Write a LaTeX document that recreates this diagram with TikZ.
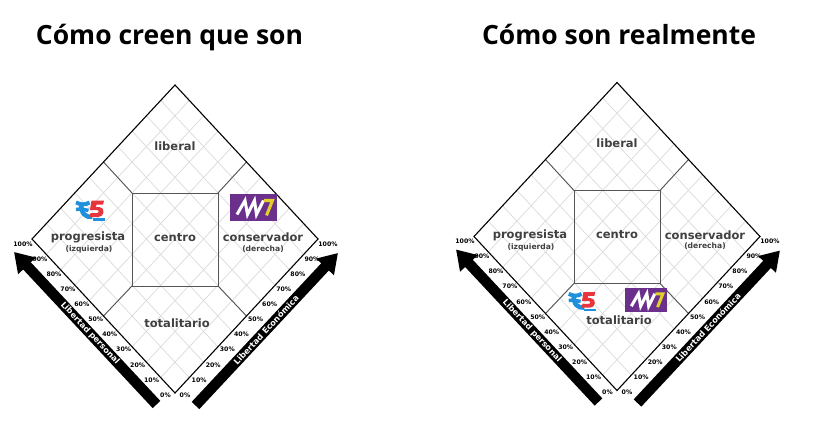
\documentclass[tikz,border=0pt]{standalone}
\usepackage{fontspec}
\setmainfont{DejaVu Sans}
\newfontfamily\titlefont{Open Sans}
\usetikzlibrary{arrows.meta, calc}
\definecolor{gridgray}{RGB}{218,218,218}
\definecolor{zonegray}{RGB}{85,85,85}
\definecolor{zonetext}{RGB}{64,64,64}
\definecolor{adnpurple}{RGB}{106,48,140}
\definecolor{adnyellow}{RGB}{226,208,40}
\definecolor{tvblue}{RGB}{30,144,220}
\definecolor{tvred}{RGB}{232,52,60}
\tikzset{
    x=1pt, y=-1pt,
    title/.style={font=\titlefont\bfseries\fontsize{26.5}{30}\selectfont, text=black, inner sep=0pt, anchor=base},
    zone/.style={font=\fontsize{11.5}{13}\selectfont\bfseries, text=zonetext, inner sep=0pt},
    subzone/.style={font=\fontsize{7.6}{9}\selectfont\bfseries, text=zonetext, inner sep=0pt},
    percent/.style={font=\fontsize{6.2}{8}\selectfont\bfseries, text=black, inner sep=0pt},
    axislabel/.style={font=\fontsize{8.2}{9}\selectfont\bfseries, text=white, inner sep=0pt},
    edge/.style={draw=black, line width=1.1pt},
    zoneline/.style={draw=zonegray, line width=0.9pt},
    gridline/.style={draw=gridgray, line width=0.7pt},
    axisarrow/.style={draw=black, line width=10.5pt, -{Triangle[width=23pt,length=19pt]}},
    pics/adnlogo/.style={code={
        \fill[adnpurple] (-23.5,-13.5) rectangle (23.5,13.5);
        \draw[white, line width=3pt] (-16.5,7) -- (-8.5,-7) -- (-6,7) -- (1,-7) -- (3,7) -- (10,-7);
        \draw[adnyellow, line width=3pt] (10.5,-7) -- (19,-7) -- (13,8);
    }},
    pics/tvlogo/.style={code={
        \draw[tvblue, line width=4pt] (-14.5,-8) .. controls (-10,-6) and (-6,-5) .. (-1,-8);
        \draw[tvblue, line width=3.5pt] (-14.5,-1) .. controls (-10,-2) and (-6,-1) .. (-2,0);
        \draw[tvblue, line width=4.5pt] (-9,-7) .. controls (-10,3) and (-5,7) .. (2,6.5);
        \fill[tvred] (1,-10) -- (13.5,-10) -- (12.5,-6) -- (6,-6) -- (5.5,-3.5) -- (9,-3.5) .. controls (15,-3) and (14,6.5) .. (8,6.5) -- (-1,6.5) -- (0,2.5) -- (6,2.5) .. controls (9,2.5) and (9,-0.5) .. (6,-0.5) -- (-0.5,-0.5) -- cycle;
        \fill[tvblue] (2,7.5) rectangle (14.5,10.5);
    }},
    pics/chart/.style={code={
        % Corners of the diamond
        \coordinate (top) at (0,-154);
        \coordinate (east) at (143,0);
        \coordinate (south) at (0,154);
        \coordinate (west) at (-143,0);
        % Diagonal grid
        \foreach \i in {1,...,9} {
            \draw[gridline] ($(top)!\i/10!(west)$) -- ($(east)!\i/10!(south)$);
            \draw[gridline] ($(top)!\i/10!(east)$) -- ($(west)!\i/10!(south)$);
        }
        % Centre square
        \coordinate (nw) at (-43,-46);
        \coordinate (ne) at (43,-46);
        \coordinate (se) at (43,47);
        \coordinate (sw) at (-43,47);
        \draw[zoneline] (nw) -- (ne) -- (se) -- (sw) -- cycle;
        \draw[zoneline] (nw) -- ($(top)!0.5!(west)$);
        \draw[zoneline] (ne) -- ($(top)!0.5!(east)$);
        \draw[zoneline] (se) -- ($(south)!0.5!(east)$);
        \draw[zoneline] (sw) -- ($(south)!0.5!(west)$);
        \draw[edge] (top) -- (east) -- (south) -- (west) -- cycle;
        % Zones
        \node[zone] (liberal) at (0,-93) {liberal};
        \node[zone] (centro) at (0,-1.5) {centro};
        \node[zone] (progresista) at (-87,-1.5) {progresista};
        \node[subzone] (izquierda) at (-86,10.5) {(izquierda)};
        \node[zone] (conservador) at (88,-1.5) {conservador};
        \node[subzone] (derecha) at (88,10) {(derecha)};
        \node[zone] (totalitario) at (2,84) {totalitario};
        % Percent scales
        \foreach \i [evaluate=\i as \p using int(\i*10)] in {0,...,9} {
            \node[percent] at ($(-9.5,156)!\i/9!(-135,20)$) {\p\%};
            \node[percent] at ($(10,156)!\i/9!(137,20)$) {\p\%};
        }
        \node[percent] (maxL) at (-152,5) {100\%};
        \node[percent] (maxR) at (153,5) {100\%};
        % Axes
        \coordinate (tailL) at (-18.5,165.5);
        \coordinate (tipL) at (-161,13);
        \coordinate (tailR) at (20.5,166.5);
        \coordinate (tipR) at (163,14);
        \draw[axisarrow] (tailL) -- (tipL);
        \draw[axisarrow] (tailR) -- (tipR);
        \node[axislabel, rotate=-47] (personal) at (-85,94.5) {Libertad personal};
        \node[axislabel, rotate=47] (economica) at (91,91) {Libertad Económica};
    }}
}
\begin{document}
\begin{tikzpicture}
\useasboundingbox (0,0) rectangle (817,433);

% Titles
\node[title] (creen) at (169.5,45) {Cómo creen que son};
\node[title] (realmente) at (619,45) {Cómo son realmente};

% Charts
\pic (before) at (175,239) {chart};
\pic (after) at (617,236.5) {chart};

% Logos
\pic at (253.5,207.5) {adnlogo};
\pic[scale=0.89] at (646,300) {adnlogo};
\pic at (90.5,210.5) {tvlogo};
\pic[scale=0.95] at (582.5,301.5) {tvlogo};

\end{tikzpicture}
\end{document}
